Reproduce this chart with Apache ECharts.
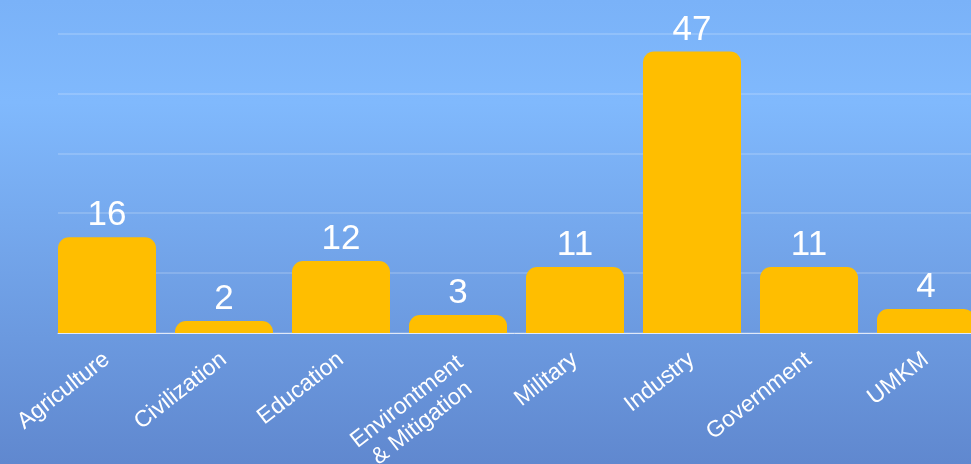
<!DOCTYPE html>
<html>
<head>
<meta charset="utf-8">
<script src="https://cdn.jsdelivr.net/npm/echarts@6/dist/echarts.min.js"></script>
<style>
html,body{margin:0;padding:0;}
#c{width:971px;height:464px;}
</style>
</head>
<body>
<div id="c"></div>
<script>
var categories = ['Agriculture', 'Civilization', 'Education', 'Environtment\n& Mitigation', 'Military', 'Industry', 'Government', 'UMKM'];
var values = [16, 2, 12, 3, 11, 47, 11, 4];
var yMin = 0, yMax = 50, yStep = 10;

var chart = echarts.init(document.getElementById('c'));
var FONT = 'Liberation Sans, Arial, Helvetica, sans-serif';
chart.setOption({
  backgroundColor: {
    type: 'linear', x: 0, y: 0, x2: 0, y2: 1,
    colorStops: [
      {offset: 0, color: '#7ab2f8'},
      {offset: 0.22, color: '#80b9fd'},
      {offset: 1, color: '#6088cf'}
    ]
  },
  animation: false,
  grid: [
    {left: 58, right: 0, top: 33.5, bottom: 131, outerBoundsMode: 'none'},
    {left: 48.5, width: 936, top: 33.5, bottom: 131, outerBoundsMode: 'none', containLabel: false}
  ],
  xAxis: [
    {gridIndex: 0, type: 'value', min: 0, max: 1, axisLabel: {show: false}, axisTick: {show: false}, splitLine: {show: false},
     axisLine: {show: true, lineStyle: {color: 'rgba(255,255,255,0.75)', width: 1}}},
    {gridIndex: 1, type: 'category', data: categories, axisLine: {show: false}, axisTick: {show: false},
     axisLabel: {color: '#ffffff', fontSize: 23, fontFamily: FONT, rotate: 38, margin: 24, interval: 0, align: 'right',
       formatter: function (v) {
         if (v.indexOf('\n') >= 0) { var p = v.split('\n'); return '{s| }\n{a|' + p[0] + '}\n{b|' + p[1] + '}'; }
         return v;
       },
       rich: {
         s: {fontSize: 10, lineHeight: 34},
         a: {color: '#ffffff', fontSize: 23, fontFamily: FONT, lineHeight: 26},
         b: {color: '#ffffff', fontSize: 23, fontFamily: FONT, lineHeight: 26, padding: [0, 9, 0, 0]}
       }
     }}
  ],
  yAxis: [
    {gridIndex: 0, type: 'value', min: yMin, max: yMax, interval: yStep, axisLabel: {show: false}, axisLine: {show: false}, axisTick: {show: false},
     splitLine: {show: true, lineStyle: {color: 'rgba(255,255,255,0.22)', width: 1.5}}},
    {gridIndex: 1, type: 'value', min: yMin, max: yMax, interval: yStep, show: false, splitLine: {show: false}}
  ],
  series: [{
    type: 'bar', xAxisIndex: 1, yAxisIndex: 1, data: values, barWidth: 98,
    itemStyle: {color: '#ffbe00', borderRadius: [11, 11, 0, 0]},
    label: {show: true, position: 'top', color: '#ffffff', fontSize: 35, fontFamily: FONT, distance: 4}
  }]
});
</script>
</body>
</html>
